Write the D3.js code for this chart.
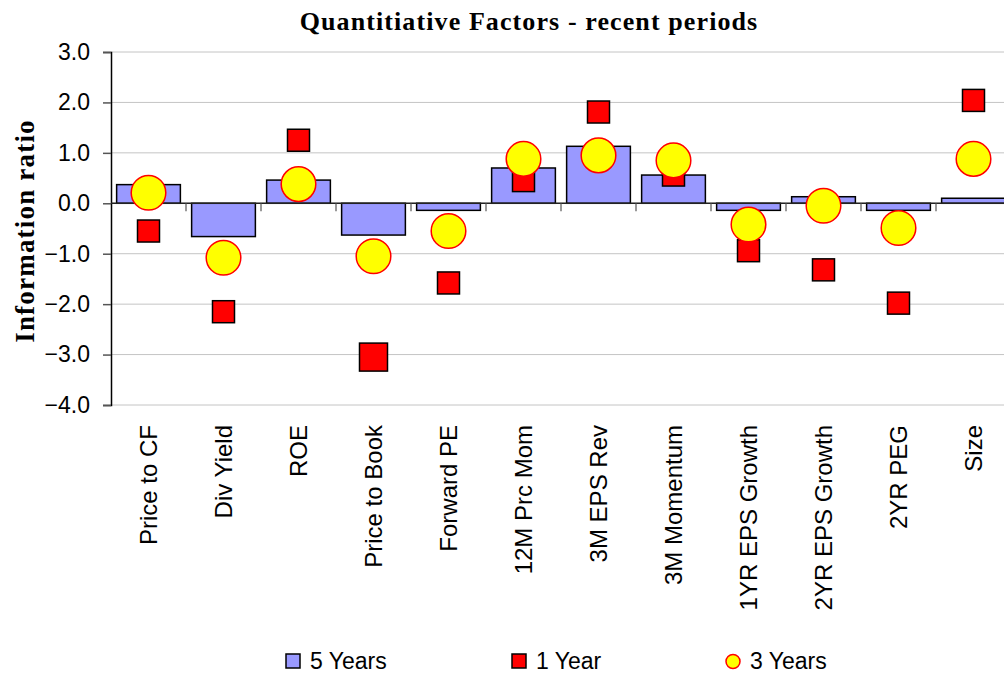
<!DOCTYPE html>
<head>
  <meta charset="utf-8">
  <script src="https://d3js.org/d3.v7.min.js"></script>
  <style>
    body { margin:0; background:#fff; }
    text { font-family: Arial, "Liberation Sans", sans-serif; fill:#000; }
  </style>
</head>
<body>
  <script>
    var categories = ["Price to CF", "Div Yield", "ROE", "Price to Book", "Forward PE",
      "12M Prc Mom", "3M EPS Rev", "3M Momentum", "1YR EPS Growth", "2YR EPS Growth",
      "2YR PEG", "Size"];
    var fiveYears  = [0.37, -0.66, 0.46, -0.63, -0.14, 0.70, 1.13, 0.56, -0.14, 0.13, -0.14, 0.10];
    var oneYear    = [-0.55, -2.15, 1.25, -3.05, -1.58, 0.45, 1.81, 0.56, -0.94, -1.32, -1.98, 2.04];
    var threeYears = [0.21, -1.08, 0.38, -1.05, -0.55, 0.88, 0.95, 0.85, -0.42, -0.05, -0.49, 0.88];
    var yTicks = [3, 2, 1, 0, -1, -2, -3, -4];
    var seriesNames = ["5 Years", "1 Year", "3 Years"];

    var W = 1004, H = 675;
    var plotLeft = 111, plotTop = 52, plotBottom = 405;

    var svg = d3.select("body").append("svg")
      .attr("width", W)
      .attr("height", H);

    var x = d3.scaleBand()
      .domain(categories)
      .range([plotLeft, plotLeft + 75 * categories.length])
      .paddingInner(0.15)
      .paddingOuter(0.075);

    var y = d3.scaleLinear()
      .domain([-4, 3])
      .range([plotBottom, plotTop]);

    // gridlines
    svg.append("g").selectAll("line")
      .data(yTicks)
      .enter().append("line")
      .attr("x1", plotLeft).attr("x2", W)
      .attr("y1", function(d) { return y(d); })
      .attr("y2", function(d) { return y(d); })
      .style("stroke", "#c4c4c4")
      .style("stroke-width", 1);

    // y axis
    var yaxis = d3.axisLeft(y)
      .tickValues(yTicks)
      .tickSize(8)
      .tickFormat(d3.format(".1f"));

    var gy = svg.append("g")
      .attr("transform", "translate(" + plotLeft + ",0)")
      .call(yaxis);
    gy.select(".domain").style("stroke", "#000").style("stroke-width", 1.5);
    gy.selectAll(".tick line").style("stroke", "#555").style("stroke-width", 1.5);
    gy.selectAll("text")
      .attr("x", -21)
      .style("font-size", "23px")
      .style("font-family", "Arial, 'Liberation Sans', sans-serif");

    // bars
    svg.selectAll(".bar")
      .data(fiveYears)
      .enter().append("rect")
      .attr("class", "bar")
      .attr("x", function(d, i) { return x(categories[i]); })
      .attr("width", x.bandwidth())
      .attr("y", function(d) { return y(Math.max(0, d)); })
      .attr("height", function(d) { return Math.abs(y(d) - y(0)); })
      .style("fill", "#9999ff")
      .style("stroke", "#000")
      .style("stroke-width", 1.5);

    // zero axis line + category ticks
    svg.append("line")
      .attr("x1", plotLeft).attr("x2", W)
      .attr("y1", y(0)).attr("y2", y(0))
      .style("stroke", "#222")
      .style("stroke-width", 1.5);

    svg.append("g").selectAll("line")
      .data(categories.slice(1))
      .enter().append("line")
      .attr("x1", function(d) { return x(d) - x.step() * 0.075; })
      .attr("x2", function(d) { return x(d) - x.step() * 0.075; })
      .attr("y1", y(0))
      .attr("y2", y(0) + 8)
      .style("stroke", "#555")
      .style("stroke-width", 1.2);

    // 1 Year squares
    var bigSquare = "Price to Book";
    svg.selectAll(".sq")
      .data(oneYear)
      .enter().append("rect")
      .attr("class", "sq")
      .each(function(d, i) {
        var s = categories[i] === bigSquare ? 28 : 22;
        d3.select(this)
          .attr("x", x(categories[i]) + x.bandwidth() / 2 - s / 2)
          .attr("y", y(d) - s / 2)
          .attr("width", s)
          .attr("height", s);
      })
      .style("fill", "#ff0000")
      .style("stroke", "#000")
      .style("stroke-width", 1.5);

    // 3 Years circles
    svg.selectAll(".dot")
      .data(threeYears)
      .enter().append("circle")
      .attr("class", "dot")
      .attr("cx", function(d, i) { return x(categories[i]) + x.bandwidth() / 2; })
      .attr("cy", function(d) { return y(d); })
      .attr("r", 17.3)
      .style("fill", "#ffff00")
      .style("stroke", "#ff0000")
      .style("stroke-width", 1.5);

    // category labels
    svg.append("g").selectAll("text")
      .data(categories)
      .enter().append("text")
      .text(function(d) { return d; })
      .attr("text-anchor", "end")
      .attr("dy", "0.35em")
      .attr("transform", function(d) {
        return "translate(" + (x(d) + x.bandwidth() / 2) + ",425) rotate(-90)";
      })
      .style("font-size", "24px");

    // title
    svg.append("text")
      .text("Quantitiative Factors - recent periods")
      .attr("x", 529)
      .attr("y", 30)
      .attr("text-anchor", "middle")
      .style("font-family", "'Liberation Serif', 'Times New Roman', serif")
      .style("font-weight", "bold")
      .style("font-size", "26px")
      .style("letter-spacing", "1.1px");

    svg.append("text")
      .text("Information ratio")
      .attr("text-anchor", "middle")
      .attr("transform", "translate(34,231) rotate(-90)")
      .style("font-family", "'Liberation Serif', 'Times New Roman', serif")
      .style("font-weight", "bold")
      .style("font-size", "27px")
      .style("letter-spacing", "1.2px");

    // legend
    var legendX = [286, 512, 726];
    var lg = svg.append("g").selectAll("g")
      .data(seriesNames)
      .enter().append("g")
      .attr("transform", function(d, i) { return "translate(" + legendX[i] + ",0)"; });

    lg.filter(function(d, i) { return i < 2; })
      .append("rect")
      .attr("x", 0).attr("y", 654)
      .attr("width", 14).attr("height", 14)
      .style("fill", function(d, i) { return i === 0 ? "#9999ff" : "#ff0000"; })
      .style("stroke", "#000")
      .style("stroke-width", 1.5);

    lg.filter(function(d, i) { return i === 2; })
      .append("circle")
      .attr("cx", 7).attr("cy", 661.5).attr("r", 7)
      .style("fill", "#ffff00")
      .style("stroke", "#ff0000")
      .style("stroke-width", 1.5);

    lg.append("text")
      .text(function(d) { return d; })
      .attr("x", 24)
      .attr("y", 669)
      .style("font-size", "23px");
  </script>
</body>
